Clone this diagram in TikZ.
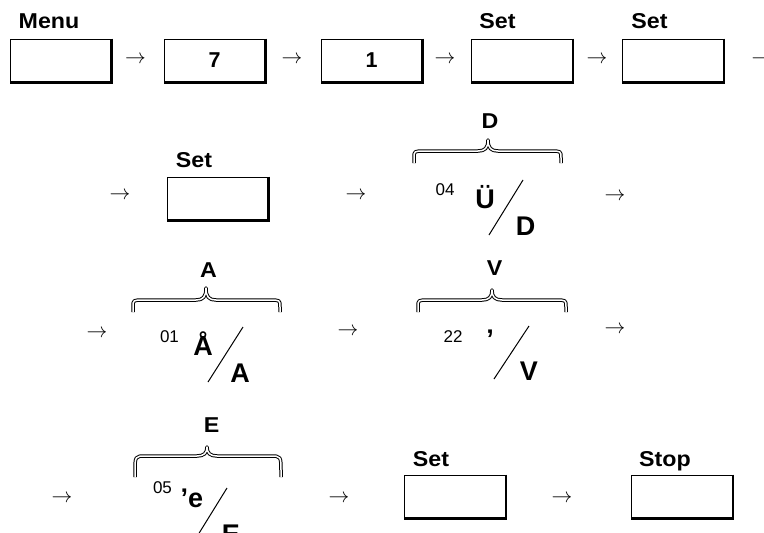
\documentclass[tikz,border=0pt]{standalone}
\usepackage{fontspec}
\setmainfont{Liberation Sans}
\newcommand\drawbrace[6]{% xL xP xR yEnd yBand yTip
  \draw[brc] (#1,#4) -- (#1,{#4-5}) .. controls (#1,#5) .. ({#1+11},#5) -- ({#2-10},#5)
    .. controls ({#2-3},#5) and (#2,{#5-3}) .. (#2,#6)
    .. controls (#2,{#5-3}) and ({#2+3},#5) .. ({#2+10},#5) -- ({#3-11},#5)
    .. controls (#3,#5) .. (#3,{#4-5}) -- (#3,#4);}
\newcommand\heavyedge[1]{\draw[heavy] (#1.north east) -- (#1.south east) -- (#1.south west);}
\begin{document}
\begin{tikzpicture}[x=1pt,y=-1pt,
  lbl/.style={font=\fontsize{21.5}{26}\selectfont\bfseries, inner sep=0pt, anchor=base, xscale=1.08, transform shape},
  big/.style={font=\fontsize{27}{32}\selectfont\bfseries, inner sep=0pt, anchor=base},
  code/.style={font=\fontsize{17}{20}\selectfont, inner sep=0pt, anchor=base},
  arr/.style={font=\fontsize{20}{24}\selectfont, inner sep=0pt, anchor=base},
  keybox/.style={draw, line width=0.9pt, minimum width=101pt, minimum height=43pt, inner sep=0pt,
    font=\fontsize{21.5}{26}\selectfont\bfseries},
  heavy/.style={line width=2.6pt},
  slash/.style={line width=1pt},
  brc/.style={double, line width=1pt, double distance=1.5pt, line join=round}
]
\useasboundingbox (0,0) rectangle (764,533);
\clip (0,0) rectangle (764,533);

% ---- row 1
\node[keybox] (k1) at (60.5,60.5) {};
\node[lbl] (menu) at (49,28.5) {Menu};
\node[arr] (a1) at (135.5,63.3) {$\rightarrow$};
\node[keybox] (k2) at (214.5,60.5) {7};
\node[arr] (a2) at (292,63.3) {$\rightarrow$};
\node[keybox] (k3) at (371.5,60.5) {1};
\node[arr] (a3) at (445,63.3) {$\rightarrow$};
\node[keybox] (k4) at (522,60.5) {};
\node[lbl] (set1) at (497.5,28) {Set};
\node[arr] (a4) at (597,63.3) {$\rightarrow$};
\node[keybox] (k5) at (673,60.5) {};
\node[lbl] (set2) at (649.5,28) {Set};
\node[arr] (a5) at (762,63.3) {$\rightarrow$};
\heavyedge{k1}\heavyedge{k2}\heavyedge{k3}\heavyedge{k4}\heavyedge{k5}

% ---- row 2
\node[arr] (a6) at (120,199) {$\rightarrow$};
\node[lbl] (set3) at (194,167) {Set};
\node[keybox] (k6) at (217.5,198.5) {};
\heavyedge{k6}
\node[arr] (a7) at (356,199) {$\rightarrow$};
\drawbrace{414}{488}{561}{163}{151}{140}
\node[lbl] (dtop) at (490,128) {D};
\node[code] (c04) at (445,195) {04};
\node[big] (uu) at (485,208) {Ü};
\draw[slash] (523,180) -- (489,235);
\node[big] (dlow) at (525.5,235) {D};
\node[arr] (a8) at (615,200) {$\rightarrow$};

% ---- row 3
\node[arr] (a9) at (97,337) {$\rightarrow$};
\drawbrace{133}{206}{280}{312}{300}{288}
\node[lbl] (atop) at (208.5,277) {A};
\node[code] (c01) at (169.5,342) {01};
\node[big] (aa) at (203,355) {Å};
\draw[slash] (243,327) -- (208,382);
\node[big] (alow) at (240,382) {A};
\node[arr] (a10) at (348,335) {$\rightarrow$};
\drawbrace{418}{492}{566}{312}{300}{290}
\node[lbl] (vtop) at (494.5,275) {V};
\node[code] (c22) at (453,342) {22};
\node[big] (apos) at (490,348) {’};
\draw[slash] (529,326) -- (494,379);
\node[big] (vlow) at (529,380) {V};
\node[arr] (a11) at (615,333) {$\rightarrow$};

% ---- row 4
\node[arr] (a12) at (62,502) {$\rightarrow$};
\drawbrace{135}{207}{281}{477}{456}{447}
\node[lbl] (etop) at (211.5,432) {E};
\node[code] (c05) at (162.5,493) {05};
\node[big] (ee) at (192,507) {’e};
\draw[slash] (227,488) -- (193,543);
\node[big] (elow) at (231,543) {E};
\node[arr] (a13) at (339,502) {$\rightarrow$};
\node[lbl] (set4) at (431,466) {Set};
\node[keybox] (k7) at (455,496.5) {};
\heavyedge{k7}
\node[arr] (a14) at (562,502) {$\rightarrow$};
\node[lbl] (stop) at (665,466) {Stop};
\node[keybox] (k8) at (682,496.5) {};
\heavyedge{k8}
\end{tikzpicture}
\end{document}
